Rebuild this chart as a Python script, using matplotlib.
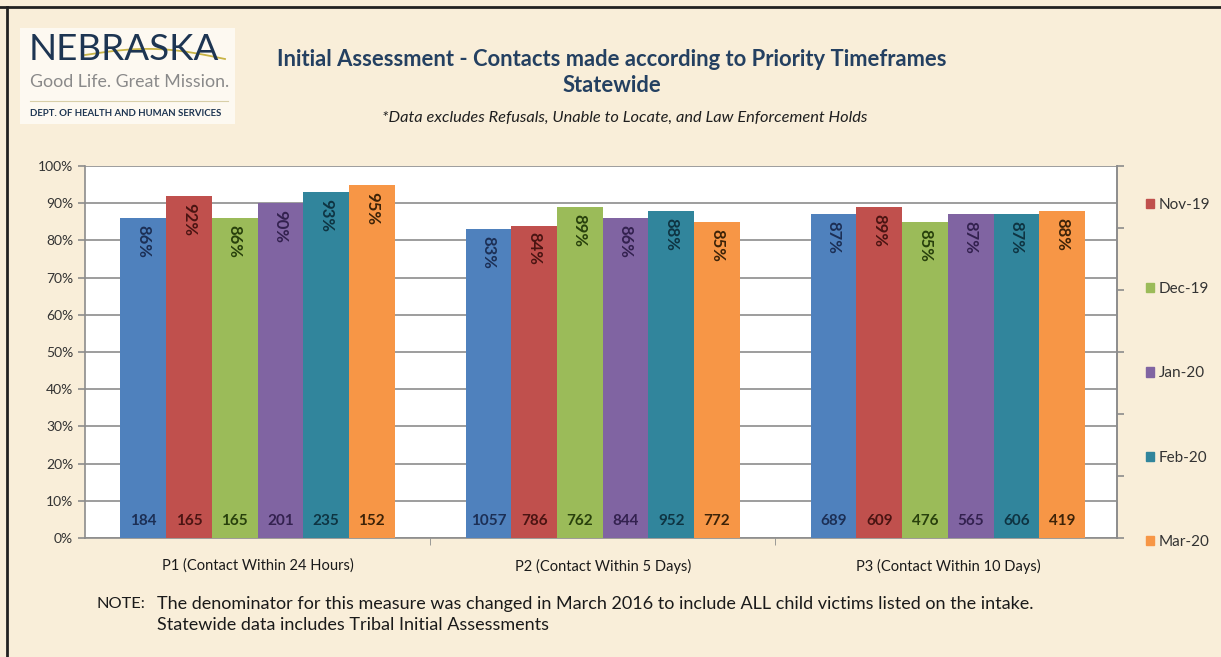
import numpy as np
import matplotlib.pyplot as plt
from matplotlib.patches import Patch, Rectangle

plt.rcParams['font.family'] = ['Lato', 'DejaVu Sans']

categories = ['P1 (Contact Within 24 Hours)', 'P2 (Contact Within 5 Days)', 'P3 (Contact Within 10 Days)']
months = ['Oct-19', 'Nov-19', 'Dec-19', 'Jan-20', 'Feb-20', 'Mar-20']
pct = [
    [86, 83, 87],   # Oct-19
    [92, 84, 89],   # Nov-19
    [86, 89, 85],   # Dec-19
    [90, 86, 87],   # Jan-20
    [93, 88, 87],   # Feb-20
    [95, 85, 88],   # Mar-20
]
counts = [
    [184, 1057, 689],
    [165, 786, 609],
    [165, 762, 476],
    [201, 844, 565],
    [235, 952, 606],
    [152, 772, 419],
]

colors = ['#4f81bd', '#c0504d', '#9bbb59', '#8064a2', '#31859c', '#f79646']
text_colors = ['#1c2f55', '#4a1412', '#28400c', '#33214f', '#0e3442', '#3d2308']
bg = '#f9eed9'

fig = plt.figure(figsize=(12.21, 6.57), dpi=100, facecolor=bg)
W, H = 1221, 657

def fx(px):
    return px / W

def fy(py):
    return 1 - py / H

ax = fig.add_axes([fx(85), fy(538), fx(1117) - fx(85), fy(166) - fy(538)])
ax.set_facecolor('white')

x = np.arange(len(categories))
w = 0.1325
for j, m in enumerate(months):
    xs = x + (j - 2.5) * w
    bars = ax.bar(xs, pct[j], width=w, color=colors[j], label=m, zorder=3)
    for xi, v, n in zip(xs, pct[j], counts[j]):
        ax.annotate(f'{v}%', (xi, v), xytext=(0, -5), textcoords='offset points',
                    rotation=270, ha='center', va='top', fontsize=12, fontweight='bold',
                    color=text_colors[j], zorder=4)
        ax.text(xi, 4.5, str(n), ha='center', va='center', fontsize=11,
                fontweight='bold', color=text_colors[j], zorder=4)

ax.set_xlim(-0.5, 2.49)
ax.set_ylim(0, 100)
ax.set_yticks(np.arange(0, 101, 10))
ax.set_yticklabels([f'{t}%' for t in range(0, 101, 10)], fontsize=10, color='#333333')
ax.yaxis.grid(True, color='#8c8c8c', linewidth=1.2, zorder=0)
ax.set_xticks(x)
ax.set_xticklabels(categories, fontsize=10.5, color='#1a1a1a')
ax.set_xticks([0.5, 1.5], minor=True)
ax.tick_params(axis='x', which='major', length=0, pad=15)
ax.tick_params(axis='x', which='minor', length=5, color='#8c8c8c')
ax.tick_params(axis='y', length=5, color='#8c8c8c', width=1.2)
for s in ax.spines.values():
    s.set_color('#8c8c8c')
    s.set_linewidth(1.2)
ax.spines['top'].set_visible(False)

# secondary axis on the right, ticks only
ax2 = ax.twinx()
ax2.set_ylim(0, 100)
ax2.set_yticks(np.linspace(0, 100, 7))
ax2.set_yticklabels([])
ax2.tick_params(axis='y', length=5, color='#8c8c8c', width=1.2)
for s in ax2.spines.values():
    s.set_visible(False)
ax2.spines['right'].set_visible(True)
ax2.spines['right'].set_color('#8c8c8c')
ax2.spines['right'].set_linewidth(1.2)

handles = [Patch(color=colors[j], label=months[j]) for j in range(1, 6)]
fig.legend(handles=handles, loc='upper left', bbox_to_anchor=(fx(1132), fy(184)),
           frameon=False, fontsize=11, labelspacing=4.6, handlelength=0.55,
           handleheight=0.55, handletextpad=0.3, labelcolor='#333333')

# titles
fig.text(fx(612), fy(60), 'Initial Assessment - Contacts made according to Priority Timeframes',
         ha='center', va='center', fontsize=15.8, fontweight='bold', color='#244061')
fig.text(fx(612), fy(86), 'Statewide', ha='center', va='center', fontsize=15.8,
         fontweight='bold', color='#244061')
fig.text(fx(625), fy(118), '*Data excludes Refusals, Unable to Locate, and Law Enforcement Holds',
         ha='center', va='center', fontsize=11.8, style='italic', color='#1f1f1f')

# logo block
fig.patches.append(Rectangle((fx(20), fy(124)), fx(235) - fx(20), fy(28) - fy(124),
                             transform=fig.transFigure, facecolor='#fdf9f1', edgecolor='none'))
fig.text(fx(29), fy(49), 'NEBRASKA', ha='left', va='center', fontsize=26.5,
         fontweight='normal', color='#1d3552')
t = np.linspace(0, 1, 50)
fig.add_artist(plt.Line2D(fx(85 + 140 * t), fy(55 - 8 * np.sin(np.pi * t) + 4 * t),
                          transform=fig.transFigure, color='#c8b446', linewidth=1.3))
fig.text(fx(30), fy(82), 'Good Life. Great Mission.', ha='left', va='center',
         fontsize=12.8, color='#8a8a8a')
fig.add_artist(plt.Line2D([fx(30), fx(228)], [fy(101), fy(101)], transform=fig.transFigure,
                          color='#d8cfa8', linewidth=0.8))
fig.text(fx(30), fy(113), 'DEPT. OF HEALTH AND HUMAN SERVICES', ha='left', va='center',
         fontsize=6.9, fontweight='bold', color='#1d3552')

# note
fig.text(fx(97), fy(604), 'NOTE:', ha='left', va='center', fontsize=11.8, color='#1a1a1a')
fig.text(fx(157), fy(604),
         'The denominator for this measure was changed in March 2016 to include ALL child victims listed on the intake.',
         ha='left', va='center', fontsize=13, color='#1a1a1a')
fig.text(fx(157), fy(625), 'Statewide data includes Tribal Initial Assessments',
         ha='left', va='center', fontsize=13, color='#1a1a1a')

# frame edges
fig.add_artist(plt.Line2D([0, 1], [fy(7), fy(7)], transform=fig.transFigure,
                          color='#222222', linewidth=2))
fig.add_artist(plt.Line2D([fx(7), fx(7)], [0, fy(7)], transform=fig.transFigure,
                          color='#222222', linewidth=2))

fig.savefig('out.png', dpi=100, facecolor=bg)
